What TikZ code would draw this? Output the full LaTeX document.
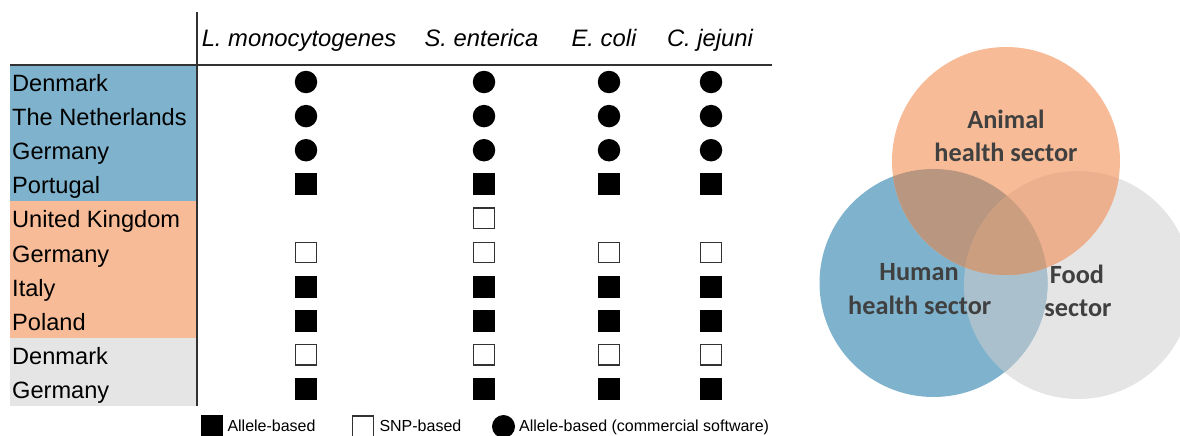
\documentclass[tikz,border=0pt]{standalone}
\usepackage{fontspec}
\setmainfont{Liberation Sans}
\newfontfamily\cfont{Carlito}
\definecolor{tblue}{RGB}{127,179,205}
\definecolor{torange}{RGB}{247,188,151}
\definecolor{tgray}{RGB}{229,229,229}
\definecolor{cBG}{RGB}{170,193,205}
\definecolor{cOB}{RGB}{184,150,128}
\definecolor{cOG}{RGB}{236,176,142}
\definecolor{cOBG}{RGB}{204,158,128}
\definecolor{vtext}{RGB}{64,64,64}
\definecolor{rule}{RGB}{50,50,50}
\begin{document}
\begin{tikzpicture}[x=1pt,y=-1pt,
  lab/.style={anchor=base west,font=\fontsize{23.6}{27}\selectfont,inner sep=0pt},
  hdr/.style={anchor=base,font=\fontsize{23.8}{28}\selectfont\itshape,inner sep=0pt},
  dot/.style={circle,fill=black,minimum size=22.5pt,inner sep=0pt},
  fsq/.style={rectangle,fill=black,minimum size=22pt,inner sep=0pt},
  esq/.style={rectangle,draw=rule,line width=1.4pt,fill=white,minimum size=20.5pt,inner sep=0pt},
  vc/.style={circle,minimum size=228pt,inner sep=0pt},
  vtxt/.style={anchor=base,font=\cfont\bfseries\fontsize{26.3}{32}\selectfont,text=vtext,inner sep=0pt},
  leg/.style={anchor=base west,font=\fontsize{16}{20}\selectfont,inner sep=0pt}]
\useasboundingbox (0,0) rectangle (1180,436);

% ---------- table backgrounds ----------
\fill[tblue] (10,65) rectangle (197,201);
\fill[torange] (10,201) rectangle (197,338);
\fill[tgray] (10,338) rectangle (197,406);

% ---------- rules ----------
\coordinate (hl) at (10,65);
\coordinate (hr) at (772,65);
\coordinate (vt) at (197,12);
\coordinate (vb) at (197,406);
\draw[rule,line width=1.2pt] (hl) -- (hr);
\draw[rule,line width=1.2pt] (vt) -- (vb);

% ---------- headers ----------
\node[hdr] (h1) at (299,46.7) {L. monocytogenes};
\node[hdr] (h2) at (481.5,46.7) {S. enterica};
\node[hdr] (h3) at (604,46.7) {E. coli};
\node[hdr] (h4) at (710,46.7) {C. jejuni};

% ---------- row labels ----------
\node[lab] (r0) at (12,91.5) {Denmark};
\node[lab] (r1) at (12,125.6) {The Netherlands};
\node[lab] (r2) at (12,159.7) {Germany};
\node[lab] (r3) at (12,193.8) {Portugal};
\node[lab] (r4) at (12,227.9) {United Kingdom};
\node[lab] (r5) at (12,262.0) {Germany};
\node[lab] (r6) at (12,296.1) {Italy};
\node[lab] (r7) at (12,330.2) {Poland};
\node[lab] (r8) at (12,364.3) {Denmark};
\node[lab] (r9) at (12,398.4) {Germany};

% ---------- symbols ----------
\foreach \cx [count=\c] in {306,484,609,711}{
  \foreach \r/\ty in {0/dot,1/dot,2/dot,3/fsq,5/esq,6/fsq,7/fsq,8/esq,9/fsq}{
    \node[\ty] (s-\r-\c) at (\cx,{82+34.1*\r}) {};
  }
}
\node[esq] (s-4-2) at (484,{82+34.1*4}) {};

% ---------- legend ----------
\node[rectangle,fill=black,minimum width=22.5pt,minimum height=22.5pt,inner sep=0pt] (lg1) at (212,426.5) {};
\node[leg] (lt1) at (227.3,431.7) {Allele-based};
\node[rectangle,draw=rule,line width=1.2pt,fill=white,minimum width=21pt,minimum height=21pt,inner sep=0pt] (lg2) at (363,426.5) {};
\node[leg] (lt2) at (379.3,431.7) {SNP-based};
\node[circle,fill=black,minimum size=23pt,inner sep=0pt] (lg3) at (503.5,426.5) {};
\node[leg] (lt3) at (519,431.7) {Allele-based (commercial software)};

% ---------- Venn ----------
\node[vc,fill=tgray] (food) at (1078,285) {};
\node[vc,fill=tblue] (human) at (933.5,283) {};
\node[vc,fill=torange] (animal) at (1006,161) {};
\begin{scope}
  \clip (933.5,283) circle (114pt);
  \fill[cBG] (1078,285) circle (114pt);
\end{scope}
\begin{scope}
  \clip (933.5,283) circle (114pt);
  \fill[cOB] (1006,161) circle (114pt);
\end{scope}
\begin{scope}
  \clip (1078,285) circle (114pt);
  \fill[cOG] (1006,161) circle (114pt);
\end{scope}
\begin{scope}
  \clip (1078,285) circle (114pt);
  \clip (933.5,283) circle (114pt);
  \fill[cOBG] (1006,161) circle (114pt);
\end{scope}

\node[vtxt] (a1) at (1006,128) {Animal};
\node[vtxt] (a2) at (1006,161.7) {health sector};
\node[vtxt] (u1) at (919,280.7) {Human};
\node[vtxt] (u2) at (919.7,314) {health sector};
\node[vtxt] (f1) at (1077,283.3) {Food};
\node[vtxt] (f2) at (1078,316.7) {sector};
\end{tikzpicture}
\end{document}
